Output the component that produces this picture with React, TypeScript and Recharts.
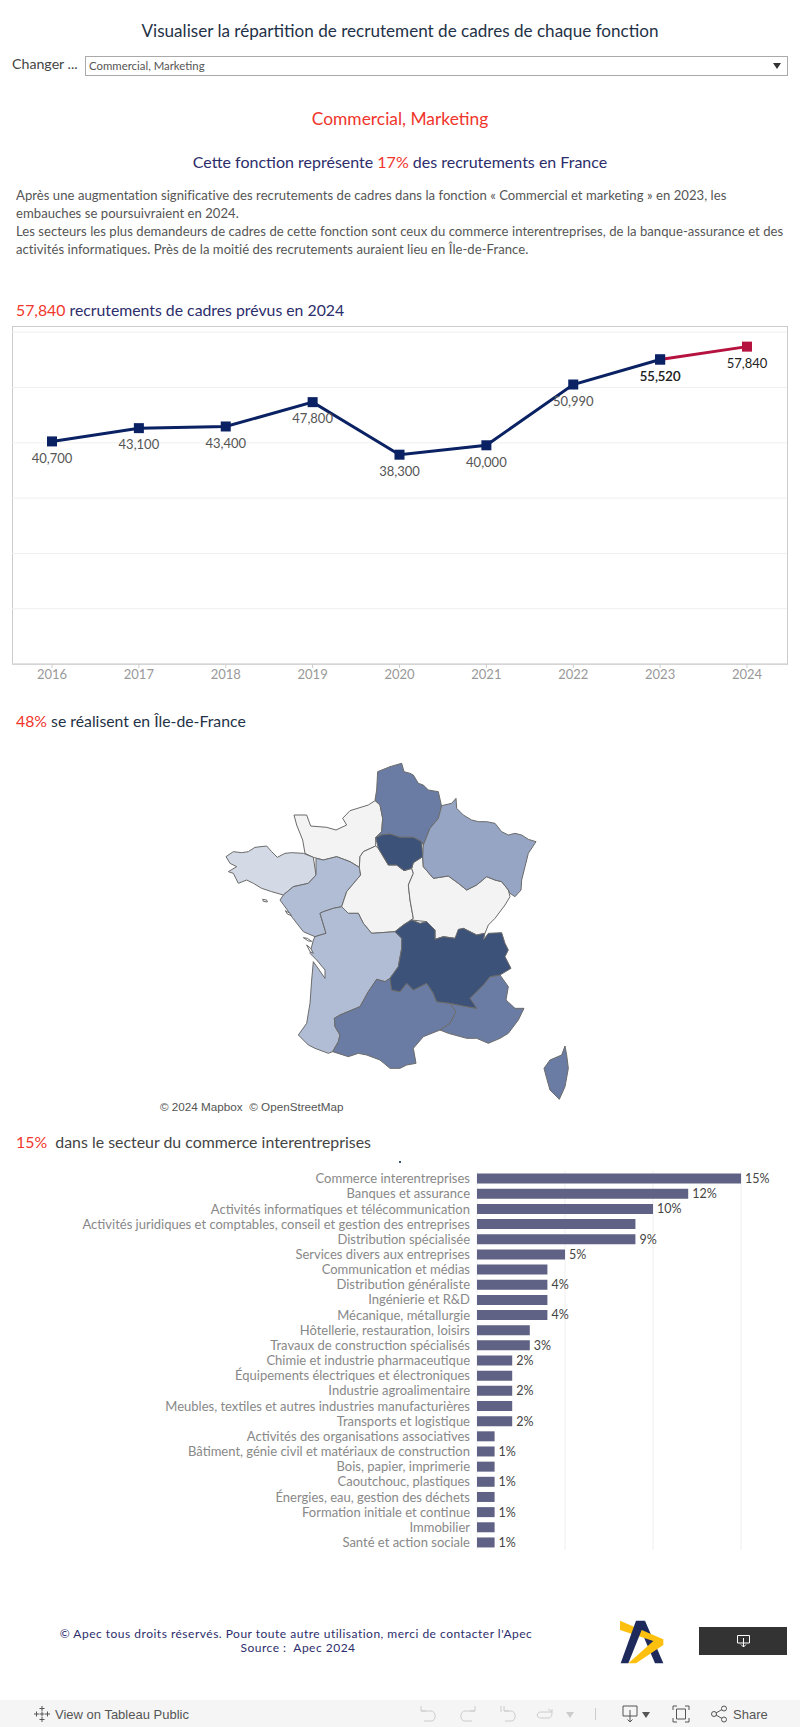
import React from "react";
import { LineChart, Line, XAxis, YAxis, CartesianGrid, LabelList, BarChart, Bar, ScatterChart, Scatter } from "recharts";

const years = ["2016", "2017", "2018", "2019", "2020", "2021", "2022", "2023", "2024"];
const hiresObserved = [40700, 43100, 43400, 47800, 38300, 40000, 50990, 55520, null];
const hiresForecast = [null, null, null, null, null, null, null, 55520, 57840];
const gridValues = [0, 10000, 20000, 30000, 40000, 50000, 60000];

const sectors = [
  "Commerce interentreprises", "Banques et assurance", "Activités informatiques et télécommunication",
  "Activités juridiques et comptables, conseil et gestion des entreprises", "Distribution spécialisée",
  "Services divers aux entreprises", "Communication et médias", "Distribution généraliste", "Ingénierie et R&D",
  "Mécanique, métallurgie", "Hôtellerie, restauration, loisirs", "Travaux de construction spécialisés",
  "Chimie et industrie pharmaceutique", "Équipements électriques et électroniques", "Industrie agroalimentaire",
  "Meubles, textiles et autres industries manufacturières", "Transports et logistique",
  "Activités des organisations associatives", "Bâtiment, génie civil et matériaux de construction",
  "Bois, papier, imprimerie", "Caoutchouc, plastiques", "Énergies, eau, gestion des déchets",
  "Formation initiale et continue", "Immobilier", "Santé et action sociale",
];
const sectorShares = [15, 12, 10, 9, 9, 5, 4, 4, 4, 4, 3, 3, 2, 2, 2, 2, 2, 1, 1, 1, 1, 1, 1, 1, 1];
const sectorLabels = ["15%", "12%", "10%", "", "9%", "5%", "", "4%", "", "4%", "", "3%", "2%", "", "2%", "", "2%", "", "1%", "", "1%", "", "1%", "", "1%"];
const shareTicks = [0, 5, 10, 15];

type P = [number, number];
const hautsDeFrance: P[] = [[533,95],[570,80],[605,70],[612,95],[630,100],[640,105],[655,130],[670,135],[685,150],[715,155],[725,200],[715,235],[690,265],[680,290],[670,315],[665,305],[640,292],[600,292],[570,282],[545,285],[527,293],[545,275],[548,235],[540,195],[525,180],[530,150],[533,95]];
const grandEst: P[] = [[725,197],[755,190],[768,175],[770,205],[790,225],[815,240],[835,245],[860,245],[885,250],[905,275],[925,285],[945,280],[965,285],[985,298],[1008,305],[985,340],[975,380],[965,420],[963,450],[945,470],[930,460],[925,450],[905,425],[885,420],[860,410],[830,435],[800,450],[775,430],[745,408],[700,415],[670,380],[668,350],[670,315],[690,265],[715,235],[725,197]];
const ileDeFrance: P[] = [[527,293],[545,285],[570,282],[600,292],[640,292],[665,305],[668,350],[640,368],[635,385],[612,392],[590,375],[565,375],[550,350],[535,325],[527,293]];
const normandie: P[] = [[282,225],[320,225],[332,258],[380,262],[408,270],[440,255],[428,235],[450,212],[505,195],[525,182],[540,195],[548,235],[545,275],[527,293],[527,318],[490,335],[480,350],[478,382],[450,365],[410,350],[370,360],[340,352],[315,340],[308,300],[290,255],[282,225]];
const bretagne: P[] = [[78,350],[100,335],[125,338],[145,335],[165,322],[200,318],[215,335],[232,352],[255,340],[275,338],[310,340],[340,352],[348,405],[325,430],[280,440],[250,465],[215,455],[185,445],[160,430],[140,420],[115,430],[100,400],[85,395],[110,380],[90,370],[78,350]];
const paysDeLaLoire: P[] = [[348,355],[370,360],[410,350],[450,365],[478,382],[482,405],[440,455],[425,500],[400,505],[370,515],[360,520],[378,580],[345,590],[310,575],[275,530],[262,510],[240,480],[250,465],[280,440],[325,430],[348,405],[348,355]];
const centreValDeLoire: P[] = [[478,382],[480,350],[490,335],[527,318],[535,325],[550,350],[565,375],[590,375],[612,392],[635,385],[640,400],[625,435],[630,480],[640,535],[610,555],[585,575],[515,580],[490,550],[475,520],[445,520],[425,500],[440,455],[482,405],[478,382]];
const bourgogneFC: P[] = [[640,368],[668,350],[670,380],[700,415],[745,408],[775,430],[800,450],[830,435],[860,410],[885,420],[905,425],[925,450],[930,470],[915,495],[885,535],[865,555],[855,580],[830,585],[790,565],[765,595],[730,590],[705,598],[705,570],[680,545],[635,540],[640,535],[630,480],[625,435],[640,400],[635,385],[640,368]];
const nouvelleAquitaine: P[] = [[360,520],[370,515],[400,505],[425,500],[445,520],[475,520],[490,550],[515,580],[585,575],[605,595],[605,625],[595,680],[570,715],[555,725],[530,718],[505,755],[480,800],[420,825],[403,835],[405,860],[420,885],[415,905],[398,935],[385,940],[345,925],[325,915],[295,885],[320,850],[330,790],[335,720],[340,665],[375,715],[375,690],[350,660],[330,640],[340,600],[345,590],[378,580],[360,520]];
const auvergneRA: P[] = [[585,575],[610,555],[635,540],[660,550],[680,545],[705,570],[705,598],[730,590],[765,595],[775,568],[790,565],[830,585],[855,580],[850,600],[865,580],[905,578],[915,610],[925,630],[915,650],[933,685],[900,705],[870,710],[850,735],[810,775],[830,805],[790,798],[750,790],[710,785],[700,760],[680,730],[640,750],[620,730],[600,755],[575,750],[570,715],[595,680],[605,625],[605,595],[585,575]];
const occitanie: P[] = [[530,718],[555,725],[570,715],[575,750],[600,755],[620,730],[640,750],[680,730],[700,760],[710,785],[750,790],[768,815],[750,850],[720,870],[670,890],[640,925],[648,970],[620,975],[600,985],[570,985],[540,960],[500,945],[475,940],[445,950],[398,935],[415,905],[420,885],[405,860],[403,835],[420,825],[480,800],[505,755],[530,718]];
const paca: P[] = [[900,705],[925,740],[918,780],[945,805],[972,805],[955,840],[925,880],[900,895],[865,910],[830,895],[800,895],[745,880],[720,870],[750,850],[768,815],[750,790],[790,798],[830,805],[810,775],[850,735],[870,710],[900,705]];
const corse: P[] = [[1095,918],[1100,945],[1105,985],[1095,1040],[1078,1078],[1050,1050],[1040,1015],[1032,985],[1050,960],[1085,945],[1095,918]];
const ileDeRe: P[] = [[310,593],[322,595],[335,604],[325,603],[310,593]];
const oleron: P[] = [[320,615],[332,625],[340,640],[330,635],[320,615]];
const noirmoutier: P[] = [[256,512],[270,520],[274,527],[262,522],[256,512]];
const belleIle: P[] = [[188,478],[200,480],[202,486],[190,484],[188,478]];

const DARK = "#3d5278", MID = "#6a7ca3", SOFT = "#95a5c3", LIGHT = "#b0bdd4", PALE = "#d3d9e5", NONE = "#f3f3f3";
const regionLayers: [P[], string][] = [
  [normandie, NONE], [bretagne, PALE], [paysDeLaLoire, LIGHT], [centreValDeLoire, NONE], [bourgogneFC, NONE],
  [nouvelleAquitaine, LIGHT], [hautsDeFrance, MID], [grandEst, SOFT], [occitanie, MID], [paca, MID], [corse, MID],
  [ileDeFrance, DARK], [auvergneRA, DARK], [ileDeRe, "#fff"], [oleron, "#fff"], [noirmoutier, "#fff"], [belleIle, "#fff"],
];

const FONT = "Lato, sans-serif";
const RED = "#f0352c";
const INDIGO = "#2c2d6b";
const UI = "'Liberation Sans', sans-serif";

const T = ({ x, y, size, color, children, center, spacing, font }: any) => (
  <div style={{ position: "absolute", left: x, top: y, transform: center ? "translate(-50%,-50%)" : "translateY(-50%)", fontFamily: font || FONT, fontSize: size, color, letterSpacing: spacing, whiteSpace: "pre", lineHeight: 1 }}>{children}</div>
);
const R = ({ children }: any) => <span style={{ color: RED }}>{children}</span>;

const lineRows = years.map((year, i) => ({ year, observed: hiresObserved[i], forecast: hiresForecast[i] }));
const barRows = sectors.map((sector, i) => ({ sector, share: sectorShares[i], label: sectorLabels[i] }));
const fmt = (v: any) => (v == null ? "" : Number(v).toLocaleString("en-US"));
const hidden = () => <g />;

const Icon = ({ x, y, w, h, color, children }: any) => (
  <svg style={{ position: "absolute", left: x, top: y }} width={w} height={h} viewBox={`0 0 ${w} ${h}`} fill="none" stroke={color}>{children}</svg>
);
const Tri = ({ x, y, color }: any) => (
  <svg style={{ position: "absolute", left: x, top: y }} width={8} height={6}><path d="M0 0H8L4 6Z" fill={color} /></svg>
);

export default function App() {
  return (
    <div style={{ position: "absolute", left: 0, top: 0, width: 800, height: 1727, overflow: "hidden", background: "#fff" }}>
      <T x={400} y={31} size={17.1} color="#1f3247" center>Visualiser la répartition de recrutement de cadres de chaque fonction</T>
      <T x={12} y={64} size={14.2} color="#444">Changer ...</T>
      <div style={{ position: "absolute", left: 85, top: 56, width: 701, height: 18, border: "1px solid #aaa" }} />
      <T x={89} y={66} size={11.4} color="#555">Commercial, Marketing</T>
      <Tri x={773} y={63} color="#333" />
      <T x={400} y={119} size={17.4} color={RED} center>Commercial, Marketing</T>
      <T x={400} y={162} size={16} color={INDIGO} center>Cette fonction représente <R>17%</R> des recrutements en France</T>
      <T x={16} y={196} size={13.1} color="#555" spacing={0.04}>Après une augmentation significative des recrutements de cadres dans la fonction « Commercial et marketing » en 2023, les</T>
      <T x={16} y={214} size={13.1} color="#555" spacing={0.04}>embauches se poursuivraient en 2024.</T>
      <T x={16} y={232} size={13.1} color="#555" spacing={0.04}>Les secteurs les plus demandeurs de cadres de cette fonction sont ceux du commerce interentreprises, de la banque-assurance et des</T>
      <T x={16} y={250} size={13.1} color="#555" spacing={0.04}>activités informatiques. Près de la moitié des recrutements auraient lieu en Île-de-France.</T>
      <T x={16} y={310} size={15.8} color={INDIGO}><R>57,840</R> recrutements de cadres prévus en 2024</T>

      <div style={{ position: "absolute", left: 12, top: 326, width: 774, height: 337, border: "1px solid #ccc" }} />
      <div style={{ position: "absolute", left: 0, top: 300 }}>
        <LineChart width={800} height={400} data={lineRows} margin={{ top: 26, left: 12, right: 13, bottom: 0 }}>
          <CartesianGrid yAxisId="grid" vertical={false} stroke="#efefef" horizontalValues={gridValues} />
          <XAxis dataKey="year" height={36} padding={{ left: 40, right: 40 }} tick={{ fill: "#999", fontSize: 13, fontFamily: FONT }} tickLine={{ stroke: "#ccc" }} tickSize={4} axisLine={{ stroke: "#ccc" }} interval={0} />
          <YAxis yAxisId="grid" hide domain={[0, 61121]} ticks={gridValues} />
          <YAxis yAxisId="data" hide domain={[450, 61571]} />
          <Line yAxisId="grid" dataKey="observed" stroke="none" dot={false} activeDot={false} isAnimationActive={false} />
          <Line yAxisId="data" dataKey="observed" stroke="#0a2263" strokeWidth={3} isAnimationActive={false} connectNulls={false}
            dot={(p: any) => p.value == null ? <g key={p.index} /> : <rect key={p.index} x={p.cx - 5} y={p.cy - 5} width={10} height={10} fill="#0a2263" />}>
            <LabelList dataKey="observed" position="bottom" offset={12} formatter={fmt} fill="#555" fontSize={13} fontFamily={FONT} />
          </Line>
          <Line yAxisId="data" dataKey="forecast" stroke="#b5123f" strokeWidth={3} isAnimationActive={false} connectNulls={false}
            dot={(p: any) => p.value == null ? <g key={p.index} /> : <rect key={p.index} x={p.cx - 5} y={p.cy - 5} width={10} height={10} fill={p.payload.year === "2024" ? "#b5123f" : "#0a2263"} />}>
            <LabelList dataKey="forecast" position="bottom" offset={12} formatter={fmt} fill="#222" fontSize={13} fontFamily={FONT} />
          </Line>
        </LineChart>
      </div>

      <T x={16} y={721} size={15.8} color="#1f3247"><R>48%</R> se réalisent en Île-de-France</T>

      <div style={{ position: "absolute", left: 200, top: 740 }}>
        <ScatterChart width={400} height={380} margin={{ top: 0, left: 0, right: 0, bottom: 0 }}>
          <XAxis type="number" dataKey="x" hide domain={[0, 1200]} />
          <YAxis type="number" dataKey="y" hide domain={[0, 1140]} reversed />
          {regionLayers.map(([outline, color], i) => (
            <Scatter key={i} data={outline.map(([x, y]) => ({ x, y }))} isAnimationActive={false} shape={hidden}
              line={{ fill: color, stroke: "#6b6b6b", strokeWidth: 1 }} lineType="joint" lineJointType="linear" />
          ))}
        </ScatterChart>
      </div>
      <T x={160} y={1107} size={11.7} color="#555" font={UI}>© 2024 Mapbox  © OpenStreetMap</T>

      <T x={16} y={1142} size={15.9} color="#444"><R>15%</R>  dans le secteur du commerce interentreprises</T>
      <div style={{ position: "absolute", left: 399, top: 1161, width: 2, height: 2, background: "#3d5278" }} />

      <div style={{ position: "absolute", left: 0, top: 1171 }}>
        <BarChart width={800} height={379} data={barRows} layout="vertical" barCategoryGap={2.6} margin={{ top: 0, left: 0, right: 50, bottom: 0 }}>
          <CartesianGrid horizontal={false} stroke="#eee" verticalValues={shareTicks} />
          <XAxis type="number" hide domain={[0, 15.51]} ticks={shareTicks} />
          <YAxis type="category" dataKey="sector" width={477} interval={0} tickLine={false} axisLine={false} tickMargin={1} tick={{ fill: "#888", fontSize: 13, fontFamily: FONT }} />
          <Bar dataKey="share" fill="#5f6285" isAnimationActive={false}>
            <LabelList dataKey="label" position="right" offset={4} fill="#444" fontSize={12.5} fontFamily={FONT} />
          </Bar>
        </BarChart>
      </div>

      <T x={296} y={1634} size={12} color={INDIGO} center spacing={0.5}>© Apec tous droits réservés. Pour toute autre utilisation, merci de contacter l'Apec</T>
      <T x={298} y={1648} size={12} color={INDIGO} center spacing={0.5}>Source :  Apec 2024</T>

      <svg style={{ position: "absolute", left: 600, top: 1610 }} width={200} height={117} viewBox="0 0 600 351">
        <path d="M120 55L135 32H135L190 160H165Z" fill="#1f2a5c" />
        <path d="M60 32L190 88V105L108 160H85L160 93L60 60Z" fill="#fdc00f" />
        <path d="M108 32H135L125 60L85 160H62Z" fill="#1f2a5c" />
      </svg>

      <div style={{ position: "absolute", left: 699, top: 1627, width: 88, height: 28, background: "#333" }} />
      <Icon x={736} y={1634} w={14} h={14} color="#fff"><path d="M1.5 1.5H13.5V9H1.5ZM7.5 4V13M5 10.5L7.5 13L10 10.5" /></Icon>

      <div style={{ position: "absolute", left: 0, top: 1700, width: 800, height: 27, background: "#f5f5f5" }} />
      <Icon x={33} y={1705} w={18} h={18} color="#555"><path d="M9 1V6M6.5 3.5H11.5M9 6.5V11.5M6.5 9H11.5M9 12V17M6.5 14.5H11.5M1 9H6M3.5 6.5V11.5M12 9H17M14.5 6.5V11.5" /></Icon>
      <T x={55} y={1714} size={13} color="#555" font={UI}>View on Tableau Public</T>
      <Icon x={418} y={1705} w={20} h={18} color="#ccc"><path d="M3 1V6H8M3 6H13C18 6 19 16 13 16H6" /></Icon>
      <Icon x={458} y={1705} w={20} h={18} color="#ccc"><path d="M17 1V6H12M17 6H7C2 6 1 16 7 16H14" /></Icon>
      <Icon x={498} y={1705} w={20} h={18} color="#ccc"><path d="M3 1V7M6 1V6H11M6 6H13C18 6 19 16 13 16H7" /></Icon>
      <Icon x={536} y={1708} w={18} h={12} color="#ccc"><path d="M16 1V4H5C0 4 0 10 5 10H12C16 10 16 6 16 4M12 1L16 4" /></Icon>
      <Tri x={566} y={1712} color="#ccc" />
      <div style={{ position: "absolute", left: 595, top: 1708, width: 1, height: 12, background: "#ccc" }} />
      <Icon x={622} y={1705} w={16} h={18} color="#555"><path d="M1 1H15V11H1ZM8 5V17M5.5 14.5L8 17L10.5 14.5" /></Icon>
      <Tri x={642} y={1712} color="#555" />
      <Icon x={672} y={1705} w={18} h={18} color="#555"><path d="M1 5V1H5M13 1H17V5M17 13V17H13M5 17H1V13M4.5 4H13.5V14H4.5Z" /></Icon>
      <Icon x={710} y={1705} w={18} h={18} color="#555"><path d="M6 8L12 4.5M6 10L12 13.5" /><circle cx="4" cy="9" r="2.5" /><circle cx="14" cy="3.5" r="2.5" /><circle cx="14" cy="14.5" r="2.5" /></Icon>
      <T x={733} y={1714} size={13} color="#555" font={UI}>Share</T>
    </div>
  );
}
